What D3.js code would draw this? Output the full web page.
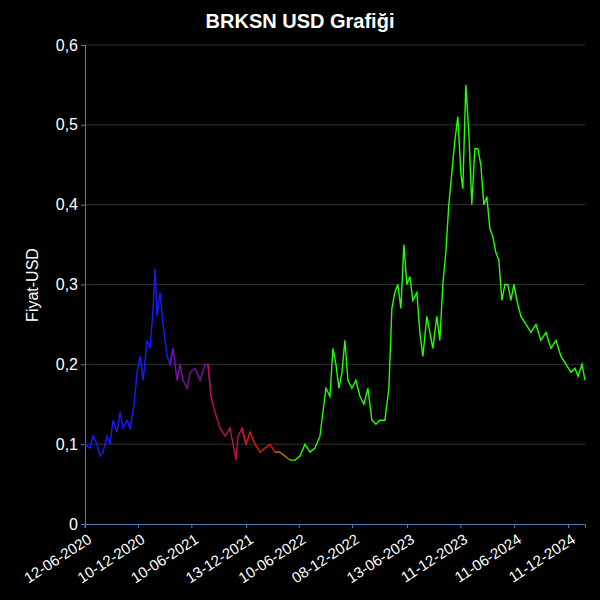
<!DOCTYPE html><html><head><meta charset="utf-8"><script src="https://cdn.jsdelivr.net/npm/d3@7"></script>
<style>body{margin:0;background:#000}</style></head><body><svg width="600" height="600"></svg>
<script>
// time as decimal year, price in USD
const years=[2020.45,2020.50,2020.53,2020.57,2020.60,2020.63,2020.67,2020.70,2020.73,2020.77,2020.80,2020.83,2020.87,2020.90,2020.94,2020.97,2021.00,2021.03,2021.07,2021.10,2021.13,2021.15,2021.17,2021.20,2021.23,2021.27,2021.30,2021.33,2021.37,2021.40,2021.43,2021.47,2021.50,2021.55,2021.60,2021.65,2021.68,2021.71,2021.75,2021.80,2021.85,2021.90,2021.93,2021.96,2021.98,2022.02,2022.06,2022.10,2022.15,2022.20,2022.25,2022.30,2022.35,2022.40,2022.45,2022.50,2022.55,2022.60,2022.65,2022.70,2022.75,2022.80,2022.83,2022.86,2022.90,2022.93,2022.96,2022.99,2023.02,2023.05,2023.08,2023.12,2023.16,2023.20,2023.24,2023.28,2023.32,2023.36,2023.40,2023.45,2023.49,2023.52,2023.55,2023.58,2023.61,2023.64,2023.67,2023.70,2023.73,2023.77,2023.80,2023.83,2023.87,2023.90,2023.93,2023.97,2024.00,2024.03,2024.06,2024.09,2024.12,2024.15,2024.18,2024.21,2024.23,2024.26,2024.29,2024.32,2024.35,2024.38,2024.41,2024.44,2024.47,2024.50,2024.53,2024.56,2024.59,2024.62,2024.65,2024.68,2024.71,2024.74,2024.77,2024.81,2024.86,2024.91,2024.96,2025.01,2025.06,2025.11,2025.16,2025.21,2025.26,2025.31,2025.35,2025.38,2025.42,2025.45];
const prices=[0.100,0.095,0.110,0.100,0.085,0.090,0.110,0.100,0.130,0.115,0.140,0.120,0.130,0.120,0.150,0.190,0.210,0.180,0.230,0.220,0.270,0.320,0.260,0.290,0.250,0.210,0.200,0.220,0.180,0.200,0.180,0.170,0.190,0.195,0.180,0.200,0.200,0.160,0.140,0.120,0.110,0.120,0.100,0.080,0.110,0.120,0.100,0.115,0.100,0.090,0.095,0.100,0.090,0.090,0.085,0.080,0.080,0.085,0.100,0.090,0.095,0.110,0.140,0.170,0.160,0.220,0.200,0.170,0.190,0.230,0.180,0.170,0.180,0.160,0.150,0.170,0.130,0.125,0.130,0.130,0.170,0.270,0.290,0.300,0.270,0.350,0.300,0.310,0.280,0.290,0.240,0.210,0.260,0.240,0.220,0.260,0.230,0.300,0.340,0.400,0.440,0.480,0.510,0.440,0.420,0.550,0.490,0.400,0.470,0.470,0.450,0.400,0.410,0.370,0.360,0.340,0.330,0.280,0.300,0.300,0.280,0.300,0.280,0.260,0.250,0.240,0.250,0.230,0.240,0.220,0.230,0.210,0.200,0.190,0.195,0.185,0.200,0.180,0.190];
const tickLabels=["12-06-2020","10-12-2020","10-06-2021","13-12-2021","10-06-2022","08-12-2022","13-06-2023","11-12-2023","11-06-2024","11-12-2024"];
const segEnds=[2021.32,2021.70,2022.05,2022.38,2022.50,2026];
const segColors=["#1a1aff","#7a10b0","#b8105a","#e01818","#a07800","#22ff00"];
const yTicks=[0,0.1,0.2,0.3,0.4,0.5,0.6];

// calibrate read-off positions to the reference's date axis
const cal=t=>2020.45+(t-2020.45)*0.93;
const toDate=y0=>{const y=cal(y0);const yr=Math.floor(y);const s=new Date(yr,0,1),e=new Date(yr+1,0,1);return new Date(+s+(y-yr)*(e-s));};
const parse=d3.timeParse("%d-%m-%Y");
const svg=d3.select("svg");
const m={l:85,r:585,t:45,b:524};
const x=d3.scaleTime().domain([toDate(years[0]),toDate(years[years.length-1])]).range([m.l,m.r]);
const y=d3.scaleLinear().domain([0,0.6]).range([m.b,m.t]);
svg.append("rect").attr("width",600).attr("height",600).attr("fill","#000");
svg.append("g").selectAll("line").data(yTicks.slice(1)).join("line")
 .attr("x1",m.l).attr("x2",m.r).attr("y1",d=>y(d)).attr("y2",d=>y(d)).attr("stroke","#333").attr("stroke-width",1);
const fmt=d=>d3.format(".1f")(d).replace(".",",");
const ya=svg.append("g").attr("transform",`translate(${m.l},0)`).call(d3.axisLeft(y).tickValues(yTicks).tickFormat(d=>d===0?"0":fmt(d)).tickSize(4));
ya.selectAll("text").attr("fill","#fff").style("font-size","16px").style("font-family","Liberation Sans, Arial");
ya.selectAll("line,path").attr("stroke","#4a80b8");
const xa=svg.append("g").attr("transform",`translate(0,${m.b})`).call(d3.axisBottom(x).tickValues(tickLabels.map(parse)).tickFormat((d,i)=>tickLabels[i]).tickSize(4));
xa.selectAll("line,path").attr("stroke","#4a80b8");
xa.selectAll("text").attr("fill","#fff").style("font-size","15px").style("font-family","Liberation Sans, Arial")
 .attr("text-anchor","end").attr("dx","0").attr("dy","0").attr("transform","translate(4,12) rotate(-33)");
const pts=years.map((t,i)=>({t,p:prices[i]}));
const line=d3.line().x(d=>x(toDate(d.t))).y(d=>y(d.p));
segEnds.forEach((end,k)=>{
  const seg=pts.filter(d=>d.t>=(k?segEnds[k-1]:0)-0.04&&d.t<=end+0.04);
  if(seg.length>1)svg.append("path").attr("d",line(seg)).attr("fill","none").attr("stroke",segColors[k]).attr("stroke-width",1.4);
});
svg.append("text").attr("x",300).attr("y",28).attr("text-anchor","middle").attr("fill","#fff").style("font-size","20px").style("font-weight","bold").style("font-family","Liberation Sans, Arial").text("BRKSN USD Grafiği");
svg.append("text").attr("transform","translate(38,285) rotate(-90)").attr("text-anchor","middle").attr("fill","#fff").style("font-size","16px").style("font-family","Liberation Sans, Arial").text("Fiyat-USD");
</script></body></html>
